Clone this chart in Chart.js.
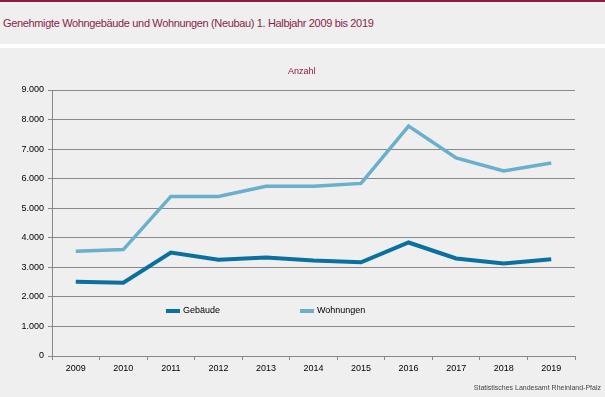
<!DOCTYPE html>
<html>
<head>
<meta charset="utf-8">
<script src="https://cdn.jsdelivr.net/npm/chart.js@4/dist/chart.umd.min.js"></script>
<style>
  body { margin: 0; width: 605px; height: 397px; background: #eeefee; position: relative; overflow: hidden; font-family: "Liberation Sans", Arial, sans-serif; }
  .bar { position: absolute; left: 0; top: 0; width: 605px; height: 2px; background: #8c1d3c; }
  .title { position: absolute; left: 3px; top: 17px; font-size: 11px; letter-spacing: -0.35px; color: #8c1d4a; white-space: nowrap; }
  .sep { position: absolute; left: 0; top: 44px; width: 605px; height: 4px; background: #fff; }
  .unit { position: absolute; left: 288px; top: 66px; font-size: 9px; color: #8c1d3c; }
  .legend { position: absolute; top: 305px; font-size: 9px; color: #000; }
  .legend span.sw { display: inline-block; width: 14px; height: 4px; vertical-align: middle; margin-right: 3px; }
  .src { position: absolute; right: 4px; top: 384px; font-size: 7px; color: #444; }
  #wrap { position: absolute; left: 0; top: 48px; width: 605px; height: 349px; }
</style>
</head>
<body>
<div class="bar"></div>
<div class="title">Genehmigte Wohngebäude und Wohnungen (Neubau) 1. Halbjahr 2009 bis 2019</div>
<div class="sep"></div>
<div id="wrap"><canvas id="chart" width="605" height="349"></canvas></div>
<div class="unit">Anzahl</div>
<div class="legend" style="left:166px"><span class="sw" style="background:#0a70a0"></span>Gebäude</div>
<div class="legend" style="left:300px"><span class="sw" style="background:#6aafcc"></span>Wohnungen</div>
<div class="src">Statistisches Landesamt Rheinland-Pfalz</div>
<script>
const years = ["2009", "2010", "2011", "2012", "2013", "2014", "2015", "2016", "2017", "2018", "2019"];
const gebaeude = [2510, 2480, 3500, 3260, 3330, 3230, 3170, 3840, 3300, 3130, 3270];
const wohnungen = [3540, 3600, 5400, 5400, 5740, 5740, 5840, 7780, 6700, 6260, 6530];

const ctx = document.getElementById("chart").getContext("2d");
new Chart(ctx, {
  type: "line",
  data: {
    labels: years,
    datasets: [
      { label: "Gebäude", data: gebaeude, borderColor: "#0a70a0", borderWidth: 4, pointRadius: 0, tension: 0 },
      { label: "Wohnungen", data: wohnungen, borderColor: "#6aafcc", borderWidth: 3.5, pointRadius: 0, tension: 0 },
    ],
  },
  options: {
    responsive: false,
    animation: false,
    layout: { padding: { left: 0, right: 30, top: 42, bottom: 0 } },
    plugins: { legend: { display: false }, tooltip: { enabled: false } },
    scales: {
      x: {
        offset: true,
        grid: { offset: true, drawOnChartArea: false, color: "#888", tickLength: 4 },
        border: { color: "#888" },
        ticks: { color: "#000", font: { family: "Liberation Sans", size: 9 }, padding: 3, maxRotation: 0, autoSkip: false },
        afterFit: (s) => { s.height = 41; },
      },
      y: {
        min: 0,
        max: 9000,
        ticks: {
          stepSize: 1000,
          color: "#000",
          font: { family: "Liberation Sans", size: 9 },
          padding: 4,
          callback: (v) => v.toLocaleString("de-DE"),
        },
        grid: { color: "#888", tickLength: 4 },
        border: { color: "#888" },
        afterFit: (s) => { s.width = 52; },
      },
    },
  },
});
</script>
</body>
</html>
